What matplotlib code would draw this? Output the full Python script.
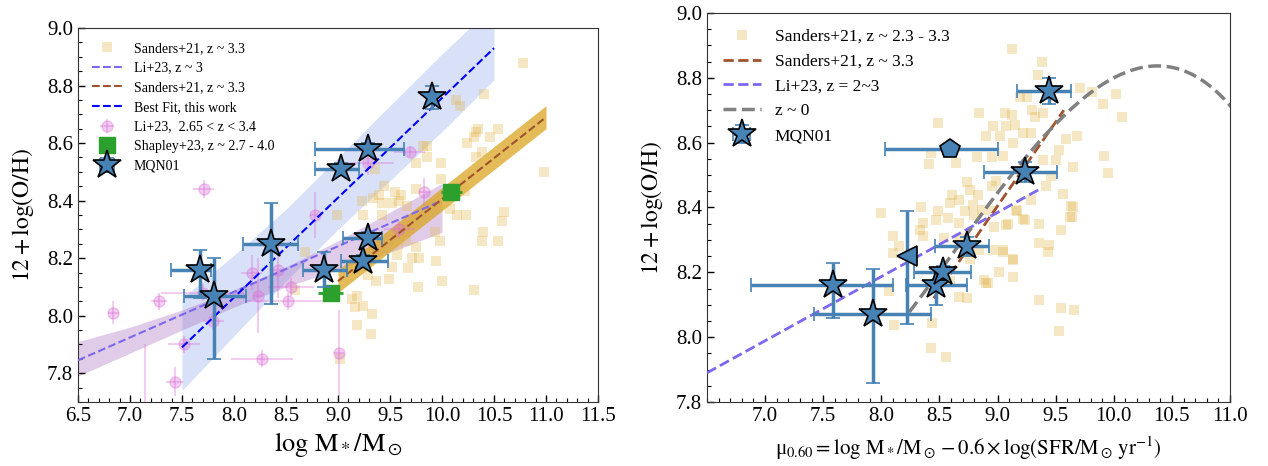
import matplotlib
matplotlib.use('Agg')
import numpy as np
import matplotlib.pyplot as plt

plt.rcParams['font.family'] = ['Liberation Serif', 'DejaVu Serif']
plt.rcParams['mathtext.fontset'] = 'stix'

# ---- MQN01 (this work) ----
mq_mass = [7.67, 7.81, 8.36, 8.87, 9.24, 9.29, 9.03, 9.29, 9.90]
mq_mass_lo = [0.28, 0.29, 0.27, 0.21, 0.21, 0.24, 0.25, 0.51, 0.0]
mq_mass_hi = [0.11, 0.31, 0.26, 0.22, 0.24, 0.13, 0.17, 0.34, 0.0]
mq_oh = [8.16, 8.07, 8.25, 8.16, 8.19, 8.27, 8.51, 8.58, 8.76]
mq_oh_lo = [0.10, 0.22, 0.21, 0.06, 0.02, 0.02, 0.02, 0.02, 0.04]
mq_oh_hi = [0.07, 0.13, 0.14, 0.06, 0.02, 0.02, 0.02, 0.02, 0.04]

mq_mu = [7.58, 7.93, 8.22, 8.47, 8.53, 8.74, 9.24, 8.59, 9.44]
mq_mu_lo = [0.70, 0.51, 0.0, 0.26, 0.25, 0.28, 0.36, 0.56, 0.27]
mq_mu_hi = [0.52, 0.50, 0.0, 0.27, 0.24, 0.19, 0.27, 0.41, 0.19]
mq_oh_mu = [8.16, 8.07, 8.25, 8.16, 8.20, 8.28, 8.51, 8.58, 8.76]
mq_ohmu_lo = [0.10, 0.21, 0.21, 0.06, 0.02, 0.03, 0.03, 0.0, 0.04]
mq_ohmu_hi = [0.07, 0.14, 0.14, 0.05, 0.02, 0.03, 0.03, 0.0, 0.04]
mq_mu_marker = ['*', '*', '<', '*', '*', '*', '*', 'p', '*']

# ---- Sanders+21 individual galaxies ----
s21_mass = [10.78, 10.40, 10.13, 10.17, 10.35, 10.54, 10.33, 10.31, 10.46, 10.24,
            10.38, 10.33, 9.82, 9.86, 9.86, 9.75, 9.99, 9.36, 10.98, 9.99,
            9.75, 9.44, 9.55, 9.61, 9.39, 9.34, 9.23, 9.42, 9.52, 9.59,
            10.22, 8.99, 9.24, 9.42, 9.66, 10.08, 10.14, 10.23, 10.60, 10.58,
            10.39, 10.38, 10.54, 9.93, 9.98, 9.65, 9.75, 9.58, 9.57, 9.71,
            9.78, 9.94, 9.67, 9.52, 9.29, 9.37, 9.49, 10.00, 9.77, 10.31,
            9.13, 9.18, 9.16, 9.24, 9.33, 9.18, 9.32, 8.68, 8.59, 9.02]
s21_oh = [8.88, 8.77, 8.75, 8.73, 8.65, 8.65, 8.64, 8.62, 8.62, 8.60,
          8.57, 8.55, 8.59, 8.59, 8.55, 8.53, 8.53, 8.51, 8.50, 8.475,
          8.44, 8.45, 8.43, 8.42, 8.42, 8.41, 8.40, 8.39, 8.39, 8.40,
          8.435, 8.35, 8.35, 8.35, 8.38, 8.37, 8.35, 8.35, 8.36, 8.33,
          8.29, 8.26, 8.26, 8.29, 8.26, 8.26, 8.24, 8.245, 8.21, 8.20,
          8.20, 8.19, 8.165, 8.17, 8.14, 8.12, 8.127, 8.12, 8.10, 8.088,
          8.058, 8.067, 8.03, 8.035, 8.007, 7.966, 7.935, 8.22, 8.09, 7.85]

s21_mu = [9.12, 9.38, 9.35, 9.71, 9.81, 10.02, 9.91, 10.07, 9.25, 9.19,
          9.30, 9.39, 9.32, 8.84, 9.06, 9.12, 8.49, 9.07, 9.15, 8.96,
          9.22, 9.29, 8.90, 9.02, 9.13, 9.59, 9.68, 9.53, 9.92, 9.95,
          8.41, 8.43, 8.64, 8.82, 8.95, 9.05, 9.39, 9.50, 9.65, 9.46,
          9.42, 9.56, 9.63, 9.62, 9.55, 9.36, 9.29, 9.22, 9.16, 8.99,
          8.95, 8.74, 8.83, 8.76, 8.61, 8.59, 8.67, 8.79, 8.72, 8.80,
          8.87, 8.95, 8.49, 8.34, 8.47, 8.36, 8.57, 8.67, 8.97, 9.07,
          9.17, 8.00, 8.33, 8.36, 8.10, 8.15, 8.10, 8.07, 8.11, 8.43,
          8.56, 8.67, 8.74, 8.59, 8.90, 9.05, 9.13, 9.13, 9.36, 9.43,
          9.36, 9.55, 9.66, 9.53, 8.84, 8.96, 8.76, 8.44, 8.54, 8.67,
          9.65, 9.64, 9.09, 9.24, 9.44, 9.13, 9.05, 9.01, 8.88, 8.92]
s21_oh_mu = [8.89, 8.85, 8.81, 8.77, 8.756, 8.75, 8.72, 8.68, 8.74, 8.74,
             8.70, 8.69, 8.68, 8.69, 8.69, 8.686, 8.66, 8.65, 8.655, 8.65,
             8.63, 8.63, 8.62, 8.62, 8.60, 8.61, 8.62, 8.576, 8.56, 8.505,
             8.534, 8.568, 8.537, 8.557, 8.557, 8.56, 8.547, 8.547, 8.525, 8.496,
             8.465, 8.442, 8.405, 8.37, 8.33, 8.35, 8.424, 8.364, 8.393, 8.483,
             8.465, 8.48, 8.44, 8.455, 8.44, 8.413, 8.424, 8.408, 8.388, 8.377,
             8.393, 8.388, 8.39, 8.403, 8.362, 8.352, 8.367, 8.352, 8.341, 8.346,
             8.388, 8.382, 8.331, 8.311, 8.311, 8.28, 8.259, 8.141, 8.038, 7.966,
             7.94, 8.125, 8.12, 8.172, 8.167, 8.27, 8.24, 8.187, 8.29, 8.264,
             8.115, 8.09, 8.085, 8.018, 8.27, 8.27, 8.24, 8.043, 8.305, 8.305,
             8.40, 8.37, 8.35, 8.36, 8.284, 8.238, 8.264, 8.202, 8.176, 8.168]

# ---- Li+23 individual galaxies ----
li_mass = [6.84, 7.28, 7.43, 7.52, 7.14, 7.71, 7.80, 8.17, 8.27, 8.42,
           8.52, 8.55, 8.78, 9.01, 9.29, 9.59, 9.69, 9.83, 7.70, 8.23]
li_mass_err = [0.05, 0.08, 0.08, 0.15, 0.05, 0.10, 0.10, 0.10, 0.30, 0.08,
               0.40, 0.22, 0.05, 0.05, 0.25, 0.15, 0.15, 0.05, 0.40, 0.05]
li_oh = [8.01, 8.05, 7.77, 7.90, 7.62, 8.44, 7.98, 8.15, 7.85, 8.16,
         8.05, 8.10, 8.35, 7.87, 8.53, 8.30, 8.57, 8.43, 8.08, 8.07]
li_oh_err = [0.04, 0.03, 0.05, 0.03, 0.28, 0.03, 0.03, 0.06, 0.03, 0.10,
             0.03, 0.03, 0.08, 0.15, 0.04, 0.03, 0.02, 0.05, 0.03, 0.13]

# ---- Shapley+23 stacks ----
sh_mass = [8.93, 10.09]
sh_oh = [8.08, 8.43]
sh_mass_err = [0.12, 0.10]
sh_oh_err = [0.02, 0.02]

# ---- relations (end points) ----
fit_x = [7.5, 10.5]
fit_y = [7.89, 8.93]
fit_band_x = [7.5, 8.0, 8.5, 9.0, 9.5, 10.0, 10.5]
fit_band_lo = [7.74, 7.93, 8.12, 8.30, 8.47, 8.64, 8.82]
fit_band_hi = [8.06, 8.21, 8.37, 8.55, 8.73, 8.91, 9.08]

li_x = [6.5, 10.0]
li_y = [7.845, 8.40]
li_band_x = [6.5, 7.0, 7.5, 8.0, 8.5, 9.0, 9.5, 10.0]
li_band_lo = [7.79, 7.87, 7.95, 8.03, 8.10, 8.16, 8.22, 8.29]
li_band_hi = [7.91, 7.96, 8.02, 8.09, 8.17, 8.26, 8.36, 8.46]

s21_x = [9.0, 11.0]
s21_y = [8.12, 8.69]
s21_band_lo = [8.08, 8.65]
s21_band_hi = [8.16, 8.73]

# right panel relations
li_mu_x = [6.5, 9.38]
li_mu_y = [7.89, 8.46]
s21_mu_x = [8.45, 9.57]
s21_mu_y = [8.12, 8.70]
# Sanders+21 z~0 FMR: 8.80 + 0.188y - 0.220y^2 - 0.0531y^3, y = mu - 10
fmr0_coef = [8.80, 0.188, -0.220, -0.0531]

star_c = '#4682b4'
sq_c = '#e2b448'
pink_c = 'orchid'

fig = plt.figure(figsize=(12.68, 4.66), dpi=100)
ax1 = fig.add_axes([78/1268, 64/466, 520/1268, 374/466])
ax2 = fig.add_axes([707/1268, 64/466, 523/1268, 389/466])

# ================= left panel =================
ax1.fill_between(fit_band_x, fit_band_lo, fit_band_hi, color='royalblue', alpha=0.2, lw=0, zorder=1)
ax1.fill_between(li_band_x, li_band_lo, li_band_hi, color='#9b59b6', alpha=0.3, lw=0, zorder=1)
ax1.fill_between(s21_x, s21_band_lo, s21_band_hi, color='goldenrod', alpha=0.75, lw=0, zorder=1)

h_sq, = ax1.plot(s21_mass, s21_oh, 's', color=sq_c, alpha=0.32, ms=7.5, mew=0, zorder=2)
h_li = ax1.errorbar(li_mass, li_oh, xerr=li_mass_err, yerr=li_oh_err, fmt='o', color=pink_c,
                    ms=8, alpha=0.35, elinewidth=1.5, zorder=3)
h_lil, = ax1.plot(li_x, li_y, '--', color='mediumslateblue', lw=1.5, zorder=4)
h_sl, = ax1.plot(s21_x, s21_y, '--', color='sienna', lw=1.5, zorder=4)
h_fit, = ax1.plot(fit_x, fit_y, '--', color='blue', lw=1.5, zorder=4)
h_sh = ax1.errorbar(sh_mass, sh_oh, xerr=sh_mass_err, yerr=sh_oh_err, fmt='s', color='#2ca02c',
                    ms=11, elinewidth=2, zorder=5)
h_mq = ax1.errorbar(mq_mass, mq_oh, xerr=[mq_mass_lo, mq_mass_hi], yerr=[mq_oh_lo, mq_oh_hi],
                    fmt='*', color=star_c, mec='black', mew=1.2, ms=21, ecolor=star_c,
                    elinewidth=2.5, capsize=5, capthick=1.5, zorder=6)

ax1.legend([h_sq, h_lil, h_sl, h_fit, h_li, h_sh, h_mq],
           ['Sanders+21, z ~ 3.3', 'Li+23, z ~ 3', 'Sanders+21, z ~ 3.3', 'Best Fit, this work',
            'Li+23,  2.65 < z < 3.4', 'Shapley+23, z ~ 2.7 - 4.0', 'MQN01'],
           loc='upper left', frameon=False, fontsize=10, labelspacing=0.48,
           handlelength=2.2, borderaxespad=0.6)

ax1.set_xlim(6.5, 11.5)
ax1.set_ylim(7.7, 9.0)
ax1.set_xticks(np.arange(6.5, 11.51, 0.5))
ax1.set_yticks([7.8, 8.0, 8.2, 8.4, 8.6, 8.8, 9.0])
ax1.set_xlabel(r'$\log\,{\rm M_*/M_\odot}$', fontsize=19, labelpad=3)
ax1.set_ylabel(r'$12+\log({\rm O/H})$', fontsize=17, labelpad=8)

# ================= right panel =================
mu_grid = np.linspace(8.24, 11.2, 200)
yy = mu_grid - 10
fmr0 = fmr0_coef[0] + fmr0_coef[1]*yy + fmr0_coef[2]*yy**2 + fmr0_coef[3]*yy**3

h2_sq, = ax2.plot(s21_mu, s21_oh_mu, 's', color=sq_c, alpha=0.32, ms=7.5, mew=0, zorder=2)
h2_sl, = ax2.plot(s21_mu_x, s21_mu_y, '--', color='sienna', lw=2, zorder=3)
h2_li, = ax2.plot(li_mu_x, li_mu_y, '--', color='mediumslateblue', lw=2, zorder=3)
h2_z0, = ax2.plot(mu_grid, fmr0, '--', color='gray', lw=2.5, zorder=3)

h2_mq = None
for i in range(len(mq_mu)):
    ms = 21 if mq_mu_marker[i] == '*' else 15
    e = ax2.errorbar([mq_mu[i]], [mq_oh_mu[i]],
                     xerr=[[mq_mu_lo[i]], [mq_mu_hi[i]]], yerr=[[mq_ohmu_lo[i]], [mq_ohmu_hi[i]]],
                     fmt=mq_mu_marker[i], color=star_c, mec='black', mew=1.2, ms=ms, ecolor=star_c,
                     elinewidth=2.5, capsize=5, capthick=1.5, zorder=6)
    if h2_mq is None:
        h2_mq = e

ax2.legend([h2_sq, h2_sl, h2_li, h2_z0, h2_mq],
           ['Sanders+21, z ~ 2.3 - 3.3', 'Sanders+21, z ~ 3.3', 'Li+23, z = 2~3', 'z ~ 0', 'MQN01'],
           loc='upper left', frameon=False, fontsize=12.5, labelspacing=0.5,
           handlelength=2.2, borderaxespad=0.5)

ax2.set_xlim(6.5, 11.0)
ax2.set_ylim(7.8, 9.0)
ax2.set_xticks(np.arange(7.0, 11.01, 0.5))
ax2.set_yticks([7.8, 8.0, 8.2, 8.4, 8.6, 8.8, 9.0])
ax2.set_xlabel('μ' + r'$_{0.60}=\log\,{\rm M_*/M_\odot}-0.6\times\log({\rm SFR/M_\odot\,yr^{-1}})$',
               fontsize=15, labelpad=6)
ax2.set_ylabel(r'$12+\log({\rm O/H})$', fontsize=17, labelpad=8)

for ax in (ax1, ax2):
    ax.xaxis.set_minor_locator(matplotlib.ticker.MultipleLocator(0.1))
    ax.yaxis.set_minor_locator(matplotlib.ticker.MultipleLocator(0.05))
    ax.tick_params(which='both', direction='in', top=False, right=False, labelsize=15)
    ax.tick_params(which='major', length=5, width=1)
    ax.tick_params(which='minor', length=3, width=0.8)
    for sp in ax.spines.values():
        sp.set_color('#333333')

fig.savefig('out.png', dpi=100)
